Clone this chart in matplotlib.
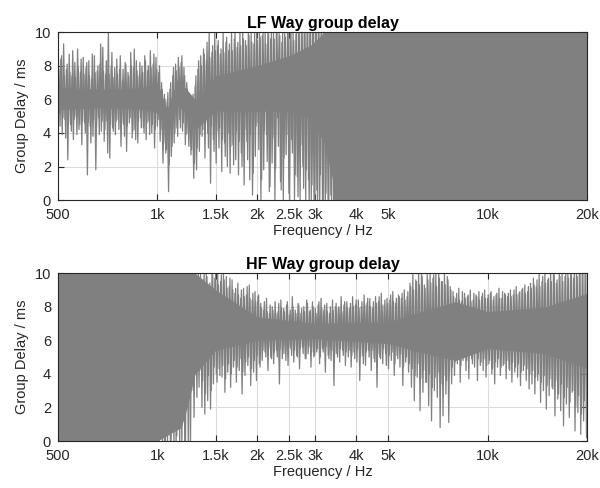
import matplotlib
matplotlib.use('Agg')
import matplotlib.pyplot as plt
import numpy as np

plt.rcParams['font.family'] = ['Liberation Sans', 'DejaVu Sans']

# tick positions / labels
xticks = [500, 1000, 1500, 2000, 2500, 3000, 4000, 5000, 10000, 20000]
xticklabels = ['500', '1k', '1.5k', '2k', '2.5k', '3k', '4k', '5k', '10k', '20k']
yticks = [0, 2, 4, 6, 8, 10]

# LF way: peak / trough readings from 500 Hz to 3.5 kHz (two interleaved passes), dense above
lf_range = [500, 3500]
lf_upper = [9.6, 8.4, 9.3, 7.8, 8.7, 7.4, 8.2, 9.0, 7.6, 8.5,
            7.9, 8.3, 7.2, 8.6, 7.7, 8.1, 9.1, 7.5, 10.0, 8.0,
            7.3, 8.4, 7.8, 7.1, 8.2, 7.6, 8.8, 7.9, 8.3, 7.4,
            8.0, 8.6, 7.7, 8.9, 8.1, 8.5,
            7.6, 7.0, 6.3, 5.9, 6.6, 7.4, 8.1,
            8.5, 8.2, 7.9, 7.0, 6.2,
            5.9, 6.8, 7.8,
            8.6, 9.0, 8.3, 10.0, 8.8, 10.0,
            9.2, 8.7, 10.0, 9.4, 8.9, 10.0, 9.6, 9.1, 10.0,
            10.0, 9.5, 10.0, 10.0, 9.3, 10.0, 10.0, 9.8, 10.0, 10.0, 9.6,
            10.0, 10.0, 10.0, 9.4, 10.0, 10.0, 10.0, 10.0, 9.9, 10.0, 10.0,
            10.5, 10.5, 10.5, 10.5, 10.5, 10.5, 10.5, 10.5, 10.5, 10.5, 10.5, 10.5]
lf_lower = [5.2, 3.9, 4.8, 2.4, 4.5, 3.6, 5.0, 4.2, 3.3, 4.6,
            1.5, 4.4, 3.8, 1.8, 4.9, 4.1, 3.5, 4.7, 2.5, 4.3,
            3.9, 4.8, 3.2, 4.5, 2.9, 4.6, 3.7, 4.2, 3.4, 4.9,
            4.3, 3.6, 4.7, 4.0, 3.1, 4.4,
            3.5, 2.2, 2.8, 0.5, 2.6, 3.4, 4.3,
            4.8, 4.1, 3.3, 4.0, 2.7,
            1.3, 1.8, 2.9,
            3.8, 2.5, 4.0, 1.0, 3.6, 2.2,
            3.1, 1.7, 3.4, 2.0, 1.6, 3.3, 2.4, 1.5, 2.8,
            0.9, 3.5, 1.2, 0.3, 2.6, 4.6, 0.0, 1.8, 3.9, 0.5, 2.2,
            0.0, 4.9, 1.1, 0.0, 2.7, 0.4, 3.6, 0.0, 1.4, 0.0, 2.0,
            0.0, 1.2, 0.0, -0.5, 0.6, -0.5, 0.0, -0.5, -0.5, 0.3, -0.5, -0.5]
lf_upper_b = [7.8, 8.6, 7.4, 8.1, 7.6, 8.9, 7.3, 7.9, 8.4, 7.5,
              8.2, 7.4, 8.7, 7.6, 8.0, 9.3, 7.7, 8.3, 7.5, 8.8,
              7.9, 7.5, 8.6, 7.8, 8.1, 7.4, 8.0, 9.0, 7.7, 8.2,
              7.6, 8.3, 8.0, 7.9, 8.7, 7.8,
              8.0, 6.6, 6.0, 6.4, 7.0, 7.9, 7.7,
              7.9, 8.6, 7.4, 6.6, 6.0,
              6.3, 7.4, 8.3,
              8.0, 8.7, 9.4, 8.5, 9.2, 8.9,
              9.5, 9.0, 8.8, 9.7, 9.3, 8.9, 10.0, 9.4, 9.2,
              9.6, 9.2, 9.8, 9.4, 10.0, 9.5, 9.7, 10.0, 9.3, 9.9, 10.0,
              9.6, 10.0, 9.8, 10.0, 9.7, 10.0, 10.0, 9.5, 10.0, 10.0, 10.0,
              10.5, 10.5, 10.5, 10.5, 10.5, 10.5, 10.5, 10.5, 10.5, 10.5, 10.5, 10.5]
lf_lower_b = [4.4, 4.9, 3.7, 4.6, 4.1, 4.8, 3.9, 4.5, 4.7, 4.0,
              4.6, 3.4, 4.8, 4.3, 3.9, 4.7, 4.2, 2.8, 4.5, 4.1,
              4.7, 4.2, 4.6, 3.8, 4.4, 4.9, 4.1, 3.6, 4.7, 4.3,
              4.0, 4.6, 3.9, 4.5, 4.2, 4.8,
              4.2, 3.4, 3.0, 2.1, 3.2, 4.0, 3.8,
              4.3, 4.6, 3.9, 3.2, 3.0,
              2.2, 3.1, 3.9,
              4.2, 4.6, 3.1, 4.4, 2.9, 4.1,
              4.3, 3.6, 2.6, 4.0, 3.2, 2.1, 4.1, 3.5, 2.0,
              4.2, 2.4, 3.9, 1.6, 4.4, 3.0, 1.2, 4.1, 2.3, 0.8, 3.7,
              1.9, 3.2, 0.6, 2.5, 3.9, 0.0, 2.8, 1.5, 0.2, 3.3, 0.7,
              1.8, -0.5, 0.9, 0.0, -0.5, 1.5, -0.5, 0.4, -0.5, -0.5, 0.0, -0.5]
# solid core of the trace (frequency, bottom, top)
lf_core_f = [500, 700, 900, 1000, 1070, 1150, 1250, 1320, 1500, 2000, 2500, 2900, 3200, 3500]
lf_core_lo = [5.4, 5.5, 5.4, 5.2, 4.5, 5.6, 5.0, 4.3, 5.3, 5.3, 5.3, 4.9, 3.4, 0.0]
lf_core_hi = [6.7, 6.6, 6.7, 7.0, 5.4, 7.2, 6.4, 5.8, 7.4, 8.0, 8.6, 9.2, 10.0, 10.0]
lf_dense = [3450, 20000]

# HF way: dense below 1 kHz, peak / trough readings from 1 kHz to 20 kHz (two passes)
hf_range = [1000, 20000]
hf_upper = [10.5, 10.5, 10.5, 10.5, 10.5, 10.5, 10.5, 10.5, 10.5, 10.5, 10.5, 10.5, 10.5,
            10.2, 9.0, 10.0, 9.6, 10.0, 9.3, 10.0, 9.7,
            10.0, 9.5, 10.0, 9.8, 9.2, 9.6,
            8.8, 9.4, 8.5, 9.1, 8.7, 9.3, 8.4, 8.9, 8.6,
            8.2, 7.8, 8.5, 7.6, 8.0, 8.3, 7.7, 8.4, 7.9, 8.1,
            7.5, 8.6, 7.8, 8.2, 7.6, 8.0, 8.4, 7.7, 8.3, 7.9,
            8.1, 8.5, 7.8, 8.2, 7.6, 8.4, 8.0, 7.9, 8.6, 8.1,
            8.3, 7.9, 8.6, 8.1, 8.4, 8.0, 8.7, 8.2, 8.5, 7.9, 8.6,
            8.3, 8.8, 8.1, 8.5, 8.4, 8.9, 8.2, 8.7, 8.5, 9.0, 8.6,
            9.4, 10.0, 9.6, 10.0, 10.0, 9.3, 10.0, 10.0, 9.7, 10.0, 10.0, 9.5, 10.0, 9.8, 9.2,
            8.9, 8.5, 9.1, 8.3, 8.8, 8.6, 9.0, 8.4, 8.7, 8.9,
            8.6, 9.0, 8.5, 8.8, 8.4, 8.7, 9.1, 8.5, 8.8, 8.6, 9.0, 8.7, 9.2, 8.8, 9.0, 9.3, 8.9,
            9.4, 9.7, 9.2, 10.0, 9.5, 10.0, 9.6, 10.0, 10.0, 9.4,
            10.0, 10.0, 9.8, 10.0, 10.0, 9.7, 10.0, 10.0, 10.0, 10.0]
hf_lower = [-0.5, 1.0, -0.5, -0.5, 0.0, 1.5, -0.5, 1.2, -0.5, 0.0, 2.7, -0.5, 3.0,
            4.5, 3.2, 2.0, 1.6, 2.4, 1.9, 3.4, 4.0,
            4.3, 3.8, 2.9, 4.1, 3.2, 4.4,
            3.5, 4.2, 2.8, 3.9, 4.5, 3.3, 4.1, 3.6, 4.6,
            4.8, 5.3, 4.2, 5.0, 4.6, 5.4, 3.4, 4.9, 5.2, 4.5,
            5.5, 4.7, 5.1, 4.3, 5.6, 4.9, 5.2, 4.4, 5.0, 5.3,
            4.6, 5.5, 4.1, 5.1, 4.8, 3.3, 5.2, 4.7, 5.4, 4.5,
            5.0, 4.4, 5.3, 4.7, 3.6, 5.1, 4.5, 5.4, 4.2, 4.9, 3.2,
            5.0, 4.6, 5.2, 4.3, 4.8, 3.9, 5.1, 4.4, 3.3, 4.7, 4.1,
            3.2, 2.4, 3.8, 1.8, 2.9, 3.5, 2.1, 1.2, 3.0, 2.6, 0.8, 1.5, 2.8, 1.1, 3.4,
            3.9, 4.6, 3.5, 4.8, 4.2, 3.7, 4.9, 4.4, 3.6, 4.5,
            4.2, 3.8, 4.6, 4.0, 3.4, 4.4, 3.9, 4.5, 3.7, 4.3, 3.5, 4.1, 3.8, 3.3, 4.2, 3.6, 3.1,
            3.4, 2.8, 3.6, 2.3, 3.0, 1.9, 2.7, 3.2, 1.5, 2.5,
            1.8, 0.9, 2.2, 1.4, 2.9, 0.6, 1.7, 0.4, 1.2, 0.2]
hf_upper_b = [10.5, 10.5, 10.5, 10.5, 10.5, 10.5, 10.5, 10.5, 10.5, 10.5, 10.5, 10.5, 10.5,
              9.5, 10.0, 9.2, 10.0, 9.8, 9.4, 9.9, 10.0,
              9.3, 9.9, 9.6, 9.1, 9.7, 9.0,
              9.1, 8.7, 9.0, 8.6, 9.2, 8.5, 8.8, 8.3, 8.7,
              7.9, 8.3, 7.7, 8.1, 7.8, 7.6, 8.2, 7.9, 7.7, 8.3,
              7.8, 8.0, 7.6, 8.1, 7.9, 7.7, 8.2, 7.8, 8.0, 7.6,
              8.3, 7.9, 8.1, 7.7, 8.0, 7.8, 8.2, 8.0, 7.7, 8.3,
              7.9, 8.2, 8.0, 8.4, 7.9, 8.3, 8.1, 8.5, 8.0, 8.3, 8.2,
              8.6, 8.1, 8.4, 8.2, 8.7, 8.3, 8.5, 8.6, 8.8, 8.4, 8.9,
              9.2, 9.0, 9.5, 9.3, 9.8, 9.1, 9.6, 9.4, 9.9, 9.2, 9.7, 9.5, 9.3, 9.6, 9.0,
              8.6, 8.8, 8.4, 8.9, 8.5, 8.7, 8.3, 8.8, 8.6, 8.4,
              8.8, 8.5, 8.7, 8.9, 8.6, 8.8, 8.5, 8.9, 8.7, 8.8, 8.6, 9.0, 8.7, 8.9, 9.1, 8.8, 9.2,
              9.1, 9.3, 9.6, 9.2, 9.8, 9.4, 9.7, 9.5, 9.9, 9.6,
              9.8, 9.5, 10.0, 9.7, 9.9, 10.0, 9.8, 10.0, 10.0, 9.9]
hf_lower_b = [0.6, -0.5, 0.0, 0.9, -0.5, -0.5, 0.3, -0.5, 1.8, -0.5, -0.5, 3.6, 1.4,
              2.6, 4.2, 3.6, 2.8, 3.9, 3.0, 4.4, 3.5,
              3.9, 4.5, 3.7, 4.6, 4.0, 4.8,
              4.4, 4.9, 4.1, 4.7, 5.0, 4.3, 4.8, 5.1, 4.4,
              5.4, 5.0, 5.6, 4.9, 5.3, 5.0, 5.5, 5.2, 4.8, 5.6,
              5.1, 5.4, 5.0, 5.5, 5.2, 4.9, 5.6, 5.3, 5.1, 5.5,
              5.0, 5.3, 5.6, 4.9, 5.4, 5.2, 5.0, 5.5, 5.1, 5.3,
              5.4, 5.1, 4.9, 5.5, 5.0, 4.6, 5.3, 5.0, 5.4, 4.7, 5.2,
              4.9, 5.5, 4.5, 5.1, 5.3, 4.6, 4.9, 5.2, 4.4, 5.0, 4.6,
              4.3, 3.9, 4.6, 3.7, 4.2, 3.5, 4.0, 3.2, 3.8, 4.1, 3.4, 3.9, 3.6, 4.2, 4.4,
              4.7, 5.0, 4.5, 5.2, 4.8, 5.1, 4.6, 5.3, 4.9, 4.7,
              4.9, 4.5, 4.8, 4.3, 4.7, 4.9, 4.4, 4.6, 4.8, 4.2, 4.7, 4.4, 4.6, 4.1, 4.5, 4.3, 4.0,
              4.2, 3.8, 4.0, 3.5, 3.9, 3.3, 3.7, 3.1, 3.6, 2.8,
              3.4, 2.6, 3.2, 2.3, 3.0, 2.0, 2.7, 1.6, 2.4, 1.3]
hf_core_f = [1000, 1180, 1230, 1300, 1500, 2000, 3000, 5000, 6500, 8000, 10000, 15000, 20000]
hf_core_lo = [0.0, 0.8, 2.0, 4.0, 5.4, 6.0, 6.1, 5.8, 5.2, 4.8, 5.5, 5.2, 4.3]
hf_core_hi = [10.0, 10.0, 10.0, 10.0, 9.0, 7.4, 7.0, 7.1, 7.8, 8.3, 7.7, 8.0, 8.8]
hf_dense = [500, 1015]

gray = '#808080'
axcol = '#262626'


def zigzag(f, upper, lower):
    y = np.empty(2 * len(upper))
    y[0::2] = upper
    y[1::2] = lower
    return f, y


def draw(ax, title, frange, upper, lower, upper_b, lower_b, core_f, core_lo, core_hi, dense):
    n = len(upper)
    fall = np.geomspace(frange[0], frange[1], 4 * n)
    ax.fill_between(dense, [0, 0], [10, 10], color=gray, linewidth=0, zorder=2)
    ax.fill_between(core_f, core_lo, core_hi, color=gray, linewidth=0, zorder=2)
    f, y = zigzag(fall[0::2], upper, lower)
    ax.plot(f, y, color=gray, linewidth=0.9, zorder=2)
    f, y = zigzag(fall[1::2], upper_b, lower_b)
    ax.plot(f, y, color=gray, linewidth=0.9, zorder=2)
    ax.set_xscale('log')
    ax.set_xlim(500, 20000)
    ax.set_ylim(0, 10)
    ax.set_xticks(xticks)
    ax.set_xticklabels(xticklabels)
    ax.minorticks_off()
    ax.set_yticks(yticks)
    ax.grid(True, color='#dcdcdc', linewidth=0.8, zorder=0)
    ax.set_axisbelow(True)
    ax.tick_params(direction='in', top=True, right=True, labelsize=10.5,
                   colors=axcol, length=4, width=0.8)
    ax.tick_params(axis='x', pad=6)
    ax.tick_params(axis='y', pad=5)
    for s in ax.spines.values():
        s.set_color(axcol)
        s.set_linewidth(0.8)
        s.set_zorder(3)
    ax.set_title(title, fontsize=11.5, fontweight='bold', pad=3)
    ax.set_xlabel('Frequency / Hz', fontsize=10.5, color=axcol, labelpad=1)
    ax.set_ylabel('Group Delay / ms', fontsize=10.5, color=axcol, labelpad=4)


fig = plt.figure(figsize=(6, 4.88), dpi=100)
ax1 = fig.add_axes([0.0967, 0.590, 0.882, 0.344])
ax2 = fig.add_axes([0.0967, 0.0963, 0.882, 0.344])

draw(ax1, 'LF Way group delay', lf_range, lf_upper, lf_lower, lf_upper_b, lf_lower_b,
     lf_core_f, lf_core_lo, lf_core_hi, lf_dense)
draw(ax2, 'HF Way group delay', hf_range, hf_upper, hf_lower, hf_upper_b, hf_lower_b,
     hf_core_f, hf_core_lo, hf_core_hi, hf_dense)

fig.savefig('out.png', dpi=100)
